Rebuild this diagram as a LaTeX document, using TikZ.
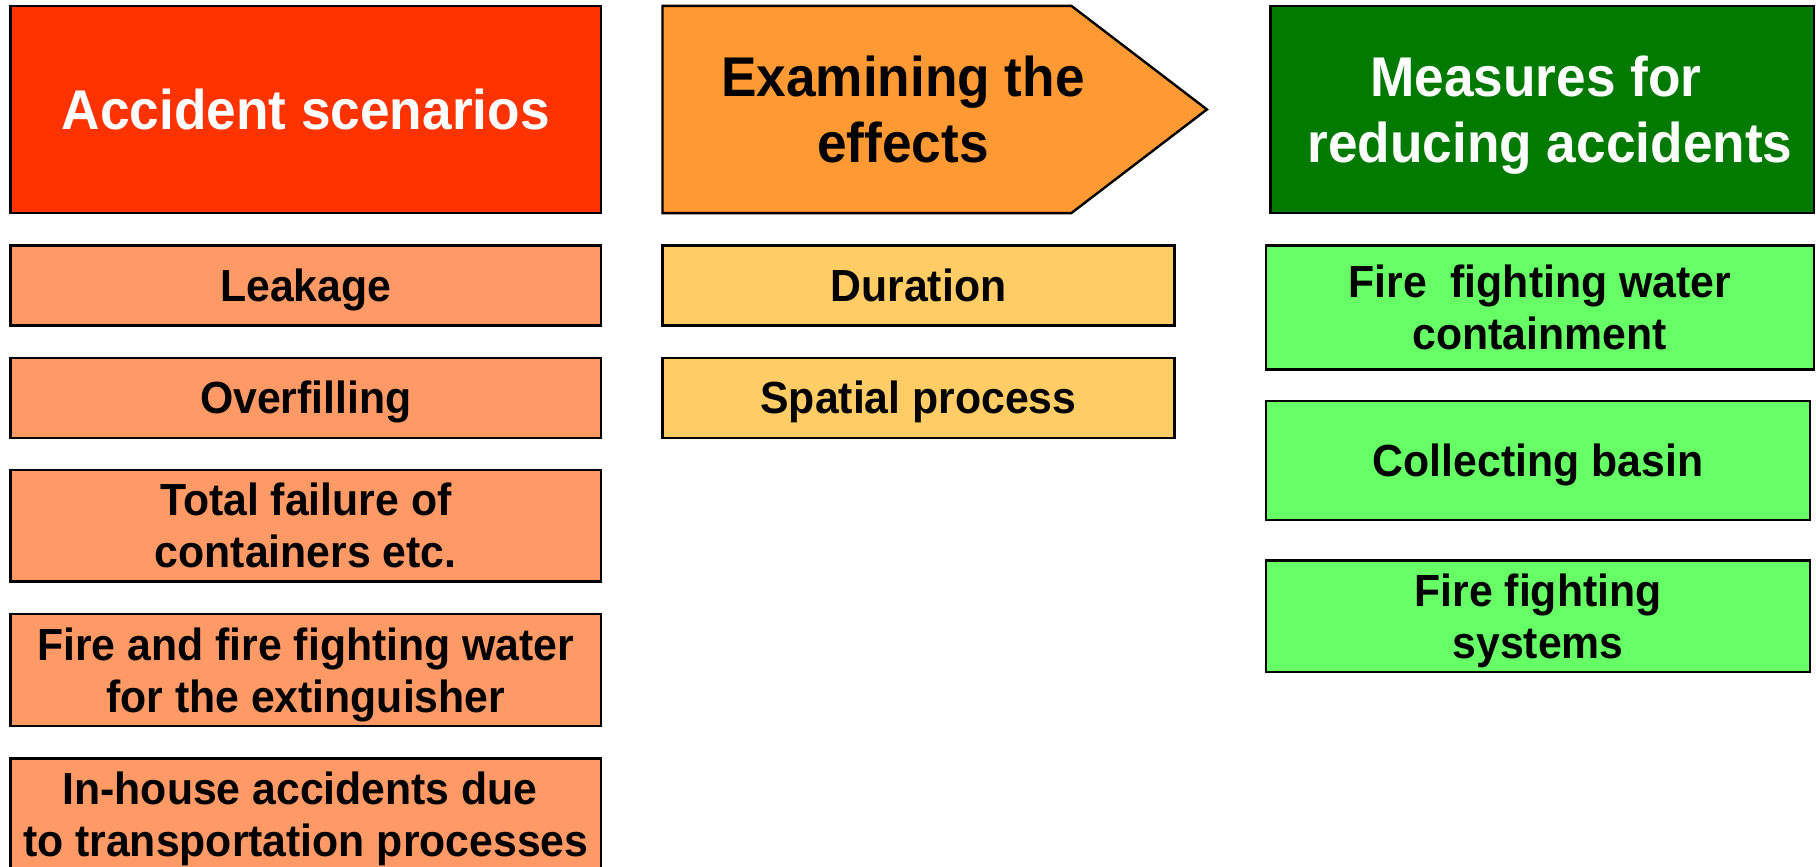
\documentclass[tikz,border=0pt]{standalone}
\usepackage{fontspec}
\setmainfont{Liberation Sans}[FakeStretch=0.95]
\definecolor{hdred}{HTML}{FF3300}
\definecolor{lorange}{HTML}{FF9966}
\definecolor{hdorange}{HTML}{FF9933}
\definecolor{lyellow}{HTML}{FFCC66}
\definecolor{hdgreen}{HTML}{007A00}
\definecolor{lgreen}{HTML}{66FF66}
\tikzset{
  box/.style={draw=black, line width=1.2pt, rectangle, inner sep=0pt, align=center, font=\fontsize{22.5}{26}\selectfont\bfseries},
  one/.style={text height=16.1pt, text depth=0pt},
  two/.style={text height=42.1pt, text depth=0pt},
  hdbox/.style={box, font=\fontsize{28}{33}\selectfont\bfseries},
  hdone/.style={text height=20pt, text depth=0pt},
  hdtwo/.style={text height=53pt, text depth=0pt},
  hdtext/.style={inner sep=0pt, align=center, font=\fontsize{28}{33}\selectfont\bfseries},
}
\begin{document}
\begin{tikzpicture}[x=0.5pt, y=-0.5pt]
\useasboundingbox (0,0) rectangle (1816,867);
% left column
\node[hdbox, hdone, fill=hdred, text=white, minimum width=295.35pt, minimum height=103.65pt] (acc) at (305.75,109.45) {Accident scenarios};
\node[box, one, fill=lorange, minimum width=295.35pt, minimum height=40pt] (leak) at (305.75,285.5) {Leakage};
\node[box, one, fill=lorange, minimum width=295.35pt, minimum height=40pt] (over) at (305.75,397.85) {Overfilling};
\node[box, two, fill=lorange, minimum width=295.35pt, minimum height=55.6pt] (total) at (305.75,525.8) {Total failure of\\containers etc.};
\node[box, two, fill=lorange, minimum width=295.35pt, minimum height=56.2pt] (fire) at (305.75,670) {Fire and fire fighting water\\for the extinguisher};
\node[box, two, fill=lorange, minimum width=295.35pt, minimum height=56.2pt] (inhouse) at (305.75,814.8) {In-house accidents due\hspace*{0.25em}\\to transportation processes};
% middle column
\coordinate (p1) at (662.5,5.8);
\coordinate (p2) at (1071.3,5.8);
\coordinate (p3) at (1206.9,109.45);
\coordinate (p4) at (1071.3,213.1);
\coordinate (p5) at (662.5,213.1);
\draw[line width=1.2pt, fill=hdorange, line join=miter] (p1) -- (p2) -- (p3) -- (p4) -- (p5) -- cycle;
\node[hdtext, hdtwo] (exam) at (903,109.45) {Examining the\\effects};
\node[box, one, fill=lyellow, minimum width=255.95pt, minimum height=40pt] (dur) at (918.45,285.5) {Duration};
\node[box, one, fill=lyellow, minimum width=255.95pt, minimum height=40pt] (spat) at (918.45,397.85) {Spatial process};
% right column
\node[hdbox, fill=hdgreen, minimum width=271.6pt, minimum height=103.65pt] (meas) at (1542.1,109.45) {};
\node[hdtext, hdtwo, text=white] (meastext) at (1550,109.45) {Measures for\hspace*{0.5em}\\reducing accidents};
\node[box, two, fill=lgreen, minimum width=273.9pt, minimum height=62pt] (ffwc) at (1539.8,307.5) {Fire\ \ fighting water\\containment};
\node[box, one, fill=lgreen, minimum width=272.15pt, minimum height=59.65pt] (coll) at (1538.05,460.35) {Collecting basin};
\node[box, two, fill=lgreen, minimum width=272.15pt, minimum height=55.6pt] (ffs) at (1538.05,616.2) {Fire fighting\\systems};
\end{tikzpicture}
\end{document}
